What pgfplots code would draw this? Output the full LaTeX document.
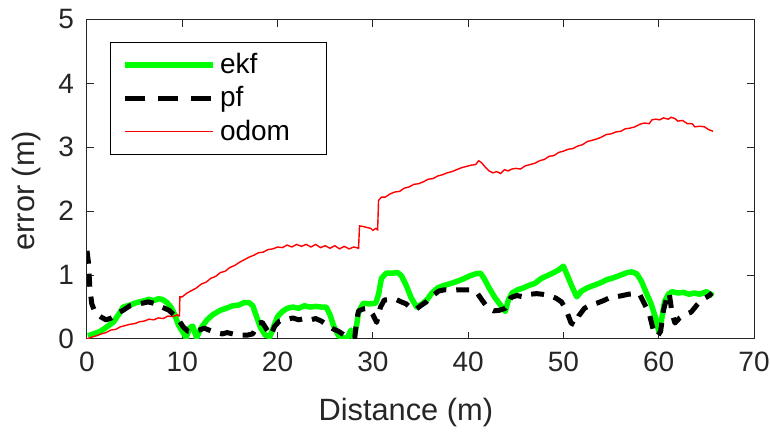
\documentclass[border=0pt]{standalone}
\usepackage{fontspec}
\setmainfont{Liberation Sans}
\usepackage{pgfplots}
\pgfplotsset{compat=1.18}
\definecolor{axgray}{gray}{0.15}
\definecolor{ekfgreen}{rgb}{0,1,0}
\begin{document}
\begin{tikzpicture}
\begin{axis}[
 scale only axis, width=333.5pt, height=159.75pt,
 xmin=0, xmax=70, ymin=0, ymax=5,
 xtick={0,10,...,70}, ytick={0,1,...,5},
 tick align=inside, major tick length=3.5pt,
 axis line style={axgray, line width=0.5pt},
 every tick/.style={axgray, line width=0.5pt},
 tick label style={font=\fontsize{14}{16}\selectfont, text=axgray},
 /pgf/number format/assume math mode=true,
 xticklabel style={yshift=-3pt},
 yticklabel style={xshift=-3pt},
 xlabel={Distance (m)}, ylabel={error (m)},
 xlabel style={font=\fontsize{15.4}{18}\selectfont, text=axgray, at={(axis description cs:0.478,-0.230)}, anchor=center},
 ylabel style={font=\fontsize{15.4}{18}\selectfont, text=axgray, at={(axis description cs:-0.090,0.464)}, anchor=center},
 legend style={at={(axis description cs:0.0345,0.9305)}, anchor=north west,
   draw=black, line width=0.5pt, inner xsep=6pt, inner ysep=3pt, row sep=0pt,
   font=\fontsize{14}{17.5}\selectfont, legend cell align=left,
   nodes={inner ysep=2.5pt}},
 legend image code/.code={\draw[#1] (0pt,0pt) -- (44pt,0pt);},
 name=ax,
]
\coordinate (sw) at (rel axis cs:0,0);
\coordinate (ne) at (rel axis cs:1,1);
% ekf
\addplot[ekfgreen, line width=2.75pt, line join=round] coordinates {
(0.1,0.05)(0.7,0.08)(1.4,0.12)(2.0,0.18)(2.8,0.27)(3.3,0.38)(3.8,0.50)(4.5,0.53)(5.2,0.57)(5.8,0.59)
(6.5,0.62)(7.0,0.60)(7.5,0.63)(7.9,0.62)(8.4,0.57)(8.8,0.50)(9.2,0.38)(9.6,0.22)(10.0,0.12)(10.4,0.02)
(10.8,0.18)(11.1,0.20)(11.5,0.02)(12.0,0.18)(12.6,0.30)(13.2,0.38)(14.0,0.45)(14.6,0.48)(15.3,0.52)(15.9,0.53)
(16.5,0.57)(17.0,0.57)(17.4,0.52)(17.8,0.35)(18.2,0.18)(18.7,0.06)(19.2,0.04)(19.6,0.20)(20.0,0.35)(20.5,0.43)
(21.0,0.48)(21.6,0.50)(22.2,0.48)(22.8,0.52)(23.4,0.50)(24.0,0.51)(24.6,0.50)(25.1,0.50)(25.5,0.38)(25.9,0.20)
(26.4,0.05)(26.9,0.02)(27.3,0.01)(27.7,0.14)(28.0,0.02)(28.3,0.22)(28.5,0.42)(29.0,0.56)(29.6,0.55)(30.3,0.56)
(30.6,0.70)(30.9,0.95)(31.4,1.03)(32.0,1.03)(32.6,1.04)(33.0,0.99)(33.5,0.84)(34.0,0.65)(34.6,0.50)(35.2,0.55)
(35.7,0.62)(36.2,0.72)(36.8,0.80)(37.5,0.84)(38.2,0.87)(38.8,0.90)(39.5,0.94)(40.2,0.99)(40.8,1.02)(41.3,1.03)
(41.7,0.94)(42.2,0.80)(42.8,0.65)(43.4,0.53)(43.9,0.43)(44.2,0.60)(44.6,0.72)(45.2,0.77)(45.8,0.80)(46.4,0.84)
(47.0,0.87)(47.7,0.95)(48.3,0.99)(49.0,1.04)(49.5,1.08)(50.0,1.14)(50.4,1.00)(50.9,0.82)(51.4,0.66)(51.9,0.75)
(52.5,0.80)(53.2,0.84)(53.9,0.88)(54.6,0.93)(55.3,0.96)(56.0,1.00)(56.7,1.04)(57.2,1.05)(57.7,1.02)(58.2,0.90)
(58.7,0.72)(59.2,0.55)(59.7,0.32)(60.0,0.12)(60.3,0.30)(60.6,0.58)(61.0,0.70)(61.4,0.74)(62.0,0.72)(62.6,0.73)
(63.2,0.70)(63.8,0.72)(64.3,0.70)(65.0,0.74)(65.7,0.68)
};
\addlegendentry{ekf}
% pf
\addplot[black, line width=2.5pt, dash pattern=on 6.5pt off 5pt, line join=round,
  legend image post style={dash pattern=on 10pt off 6.5pt}] coordinates {
(0,1.38)(0.15,1.2)(0.3,0.8)(0.5,0.55)(0.9,0.40)(1.4,0.35)(2.0,0.30)(2.6,0.33)(3.2,0.40)(3.8,0.45)
(4.5,0.52)(5.2,0.54)(5.8,0.56)(6.4,0.58)(7.0,0.56)(7.5,0.52)(8.0,0.49)(8.6,0.45)(9.1,0.38)(9.6,0.30)
(10.1,0.19)(10.6,0.12)(11.2,0.12)(11.8,0.14)(12.3,0.17)(12.8,0.14)(13.5,0.10)(14.2,0.08)(14.7,0.10)(15.3,0.08)
(16.0,0.06)(16.8,0.06)(17.4,0.08)(18.0,0.25)(18.4,0.26)(18.9,0.14)(19.3,0.06)(19.7,0.20)(20.2,0.28)(20.9,0.30)
(21.6,0.33)(22.2,0.30)(22.8,0.32)(23.5,0.30)(24.0,0.32)(24.6,0.28)(25.2,0.22)(25.8,0.16)(26.4,0.12)(27.0,0.06)
(27.6,0.03)(28.1,0.02)(28.3,0.30)(28.5,0.44)(29.0,0.47)(29.5,0.48)(30.0,0.38)(30.4,0.26)(30.8,0.50)(31.2,0.61)
(31.8,0.62)(32.4,0.62)(33.0,0.58)(33.5,0.55)(34.0,0.48)(34.5,0.46)(35.0,0.52)(35.6,0.58)(36.3,0.68)(36.9,0.75)
(37.5,0.77)(38.2,0.76)(38.9,0.77)(39.6,0.77)(40.3,0.77)(40.9,0.73)(41.5,0.60)(42.1,0.48)(42.7,0.44)(43.3,0.45)
(43.9,0.48)(44.5,0.65)(45.1,0.68)(45.8,0.66)(46.5,0.70)(47.2,0.71)(47.8,0.70)(48.5,0.68)(49.2,0.64)(49.8,0.58)
(50.3,0.45)(50.8,0.25)(51.2,0.22)(51.6,0.36)(52.2,0.48)(52.8,0.53)(53.5,0.56)(54.2,0.60)(54.9,0.65)(55.5,0.66)
(56.2,0.68)(56.8,0.70)(57.4,0.71)(58.0,0.70)(58.5,0.55)(59.0,0.40)(59.3,0.22)(59.5,0.10)(59.9,0.05)(60.2,0.12)
(60.5,0.45)(60.8,0.62)(61.1,0.72)(61.4,0.40)(61.7,0.25)(62.2,0.33)(62.7,0.38)(63.4,0.42)(64.0,0.53)(64.6,0.62)
(65.2,0.67)(65.6,0.72)
};
\addlegendentry{pf}
% odom
\addplot[red, line width=0.7pt] coordinates {
(0,0)(0.5,0.03)(1,0.05)(1.5,0.08)(2,0.10)(2.5,0.14)(3,0.15)(3.5,0.19)(4,0.21)(4.5,0.23)
(5,0.24)(5.5,0.27)(6,0.28)(6.5,0.31)(7,0.30)(7.5,0.33)(8,0.32)(8.5,0.36)(9,0.35)(9.5,0.38)
(9.6,0.36)(9.7,0.36)(9.75,0.66)(10,0.66)(10.5,0.72)(11,0.76)(11.5,0.80)(12,0.86)(12.5,0.89)(13,0.95)
(13.5,0.98)(14,1.04)(14.5,1.06)(15,1.12)(15.5,1.15)(16,1.20)(16.5,1.24)(17,1.28)(17.5,1.31)(18,1.35)
(18.5,1.36)(19,1.40)(19.5,1.41)(20,1.44)(20.5,1.43)(21,1.47)(21.5,1.44)(22,1.48)(22.5,1.45)(23,1.48)
(23.5,1.44)(24,1.48)(24.5,1.43)(25,1.46)(25.5,1.42)(26,1.46)(26.5,1.41)(27,1.45)(27.5,1.41)(28,1.44)
(28.5,1.42)(28.6,1.77)(29,1.76)(29.5,1.74)(29.8,1.73)(30,1.70)(30.3,1.73)(30.5,1.71)(30.6,2.17)(30.9,2.22)
(31.3,2.22)(31.8,2.27)(32.3,2.30)(32.8,2.31)(33.3,2.36)(33.8,2.38)(34.3,2.42)(34.8,2.43)(35.3,2.46)(35.8,2.50)
(36.3,2.51)(36.8,2.55)(37.3,2.57)(37.8,2.60)(38.3,2.62)(38.8,2.65)(39.3,2.68)(39.8,2.70)(40.3,2.72)(40.8,2.73)
(41.1,2.79)(41.4,2.76)(41.8,2.69)(42.2,2.63)(42.6,2.60)(43.0,2.62)(43.4,2.59)(43.8,2.65)(44.2,2.63)(44.6,2.66)
(45,2.67)(45.5,2.66)(46,2.71)(46.5,2.73)(47,2.75)(47.5,2.79)(48,2.81)(48.5,2.86)(49,2.87)(49.5,2.92)
(50,2.94)(50.5,2.97)(51,2.98)(51.5,3.02)(52,3.04)(52.5,3.09)(53,3.11)(53.5,3.13)(54,3.16)(54.5,3.20)
(55,3.21)(55.5,3.24)(56,3.25)(56.5,3.29)(57,3.30)(57.5,3.32)(58,3.36)(58.5,3.38)(59,3.37)(59.3,3.43)
(59.7,3.44)(60.1,3.43)(60.5,3.46)(61,3.44)(61.3,3.47)(61.7,3.45)(62,3.41)(62.5,3.42)(63,3.37)(63.5,3.37)
(63.8,3.32)(64.3,3.33)(64.8,3.32)(65.2,3.28)(65.7,3.25)
};
\addlegendentry{odom\hspace*{10pt}}
\end{axis}
\pgfresetboundingbox
\useasboundingbox ([shift={(-43.5pt,-46.5pt)}]sw) rectangle ([shift={(8pt,9.75pt)}]ne);
\end{tikzpicture}
\end{document}
